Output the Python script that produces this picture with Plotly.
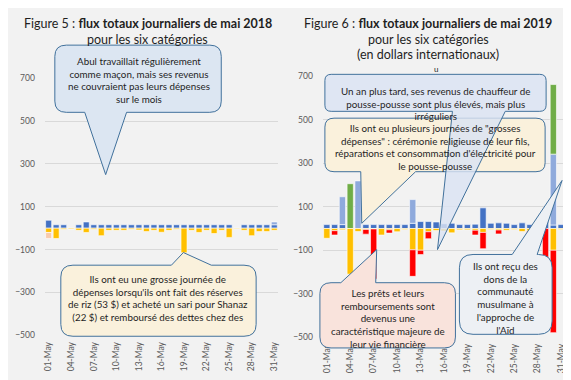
import plotly.graph_objects as go

W, H = 571, 380

days = [f"{d:02d}-May" for d in range(1, 32)]
tick_days = days[::3]
y_ticks = [-500, -300, -100, 100, 300, 500, 700]

# ---- 2018 (Figure 5) ----
db18 = [37, 16, 16, 0, 16, 29, 16, 16, 16, 16, 16, 16, 16, 16, 16, 16, 16, 16, 16, 16,
        16, 16, 16, 16, 16, 0, 16, 16, 16, 16, 16]
lb18 = [0] * 30 + [13]
ye18 = [-20, -48, -5, -4, -10, -20, -5, -35, -10, -10, -10, -5, -8, -16, -10, -19, -10, -5,
        -115, -10, -20, -10, -25, -10, -43, -3, -10, -35, -16, -16, -10]
pe18 = [-28] + [0] * 30

# ---- 2019 (Figure 6) ----
db19 = [18, 18, 18, 0, 0, 18, 18, 18, 18, 18, 18, 24, 32, 32, 30, 22, 24, 18, 18, 20,
        95, 24, 26, 24, 18, 26, 18, 18, 55, 16, 18]
lb19 = [0, 0, 128, 0, 219, 0, 0, 0, 0, 0, 0, 109, 0, 0, 0, 0, 0, 0, 0, 0,
        0, 0, 0, 0, 0, 0, 0, 0, 0, 326, 0]
gr19 = [0, 0, 0, 206, 0, 0, 0, 0, 0, 0, 0, 0, 0, 0, 0, 0, 0, 0, 0, 0,
        0, 0, 0, 0, 0, 0, 0, 0, 0, 320, 0]
ye19 = [-45, -10, -6, -210, -14, -4, -2, -30, -6, -15, -5, -98, -100, -15, -9, -12, -20, -6,
        -6, -8, -18, -5, -7, -8, -5, -14, -12, -12, 0, -100, -5]
re19 = [0, -20, 0, 0, 0, -22, -230, 0, -15, 0, 0, -122, -20, -32, 0, 0, 0, 0, 0, -22,
        -75, 0, -18, 0, 0, 0, -42, -35, -140, -379, 0]

C_DB, C_LB, C_GR = "#4472C4", "#8FAADC", "#70AD47"
C_YE, C_RE, C_PE = "#FFC000", "#FF0000", "#F8CBAD"

def nz(v):
    return [x if x != 0 else None for x in v]

fig = go.Figure()
for vals, col, xa, ya in [
    (db18, C_DB, "x", "y"), (lb18, C_LB, "x", "y"), (ye18, C_YE, "x", "y"), (pe18, C_PE, "x", "y"),
    (db19, C_DB, "x2", "y2"), (lb19, C_LB, "x2", "y2"), (gr19, C_GR, "x2", "y2"),
    (ye19, C_YE, "x2", "y2"), (re19, C_RE, "x2", "y2"),
]:
    fig.add_trace(go.Bar(x=days, y=nz(vals), marker=dict(color=col, line=dict(color="white", width=0.6)),
                         xaxis=xa, yaxis=ya, showlegend=False, hoverinfo="skip"))

def px(x):
    return x / W

def py(y):
    return 1 - y / H

axis_font = dict(family="Lato", size=8.5, color="#595959")
xcommon = dict(type="category", categoryorder="array", categoryarray=days, tickmode="array",
               tickvals=tick_days, ticktext=tick_days, tickangle=-90, tickfont=axis_font,
               showgrid=False, showline=False, zeroline=False, ticks="", ticklabelstandoff=4)
ycommon = dict(range=[-500, 700], tickmode="array", tickvals=y_ticks, tickfont=axis_font,
               gridcolor="#D9D9D9", gridwidth=1, zeroline=False, showline=False, ticks="",
               ticklabelstandoff=9)

fig.update_layout(
    width=W, height=H, margin=dict(l=0, r=0, t=0, b=0),
    paper_bgcolor="#F2F2F2", plot_bgcolor="#F2F2F2",
    barmode="relative", bargap=0.2,
    xaxis=dict(domain=[px(36), px(270)], anchor="y", **xcommon),
    yaxis=dict(domain=[py(331), py(67)], anchor="x", **ycommon),
    xaxis2=dict(domain=[px(315), px(558)], anchor="y2", **xcommon),
    yaxis2=dict(domain=[py(333), py(65)], anchor="x2", **ycommon),
)

def P(x, y):
    return f"{x / W:.5f},{1 - y / H:.5f}"

def callout(x0, y0, x1, y1, side, bx0, bx1, tx, ty):
    r = min(x1 - x0, y1 - y0) * 0.1667
    p = f"M {P(x0 + r, y0)} "
    if side == "top":
        p += f"L {P(bx0, y0)} L {P(tx, ty)} L {P(bx1, y0)} "
    p += f"L {P(x1 - r, y0)} Q {P(x1, y0)} {P(x1, y0 + r)} L {P(x1, y1 - r)} Q {P(x1, y1)} {P(x1 - r, y1)} "
    if side == "bottom":
        p += f"L {P(bx1, y1)} L {P(tx, ty)} L {P(bx0, y1)} "
    p += f"L {P(x0 + r, y1)} Q {P(x0, y1)} {P(x0, y1 - r)} L {P(x0, y0 + r)} Q {P(x0, y0)} {P(x0 + r, y0)} Z"
    return p

BORDER = "#41719C"
shapes = []
def add_callout(path, fill):
    shapes.append(dict(type="path", xref="paper", yref="paper", path=path, fillcolor=fill,
                       line=dict(color=BORDER, width=1), layer="above"))

# left panel callouts
add_callout(callout(46, 33, 213, 102, "bottom", 76, 118, 97, 166), "#DCE6F2")
add_callout(callout(52, 259, 248, 332, "top", 163, 203, 175, 246), "#FAF1DC")
# right panel callouts
add_callout(callout(317, 108, 538, 163, "bottom", 353, 408, 354, 216), "#FAF1DC")
add_callout(callout(317, 63, 539, 101, "bottom", 445, 498, 430, 243), "rgba(218,227,243,0.82)")
add_callout(callout(312, 277, 448, 344, "top", 333, 368, 369, 243), "#F9E3DC")
add_callout(callout(452, 248, 545, 330, "top", 505, 530, 555, 172), "#EDF0F4")
# white strip at the right edge
shapes.append(dict(type="rect", xref="paper", yref="paper", x0=px(566), x1=1, y0=0, y1=1,
                   fillcolor="white", line=dict(width=0), layer="above"))
fig.update_layout(shapes=shapes)

TXT = "#1F1F1F"
def note(text, cx, cy, size=9.8, color=TXT):
    fig.add_annotation(text=text, x=px(cx), y=py(cy), xref="paper", yref="paper",
                       xanchor="center", yanchor="middle", showarrow=False, align="center",
                       font=dict(family="Lato", size=size, color=color))

note("Figure 5 : <b>flux totaux journaliers de mai 2018</b>", 139, 11, 12.5)
note("pour les six catégories", 139, 27, 12.5)
note("Figure 6 : <b>flux totaux journaliers de mai 2019</b>", 420, 11, 12.5)
note("pour les six catégories", 421, 27, 12.5)
note("(en dollars internationaux)", 420, 43, 12.5)
note("u", 428, 57, 8)

note("Abul travaillait régulièrement<br>comme maçon, mais ses revenus<br>ne couvraient pas leurs dépenses<br>sur le mois",
     130, 68.5)
note("Ils ont eu une grosse journée de<br>dépenses lorsqu'ils ont fait des réserves<br>de riz (53 $) et acheté un sari pour Shanaz<br>(22 $) et remboursé des dettes chez des",
     150, 293)
note("Un an plus tard, ses revenus de chauffeur de<br>pousse-pousse sont plus élevés, mais plus<br>irréguliers",
     428, 92.5)
note("Ils ont eu plusieurs journées de \"grosses<br>dépenses\" : cérémonie religieuse de leur fils,<br>réparations et consommation d'électricité pour<br>le pousse-pousse",
     428, 138)
note("Les prêts et leurs<br>remboursements sont<br>devenus une<br>caractéristique majeure de<br>leur vie financière",
     380, 314)
note("Ils ont reçu des<br>dons de la<br>communauté<br>musulmane à<br>l'approche de<br>l'Aïd",
     498, 293)

fig.write_html("out.html")
